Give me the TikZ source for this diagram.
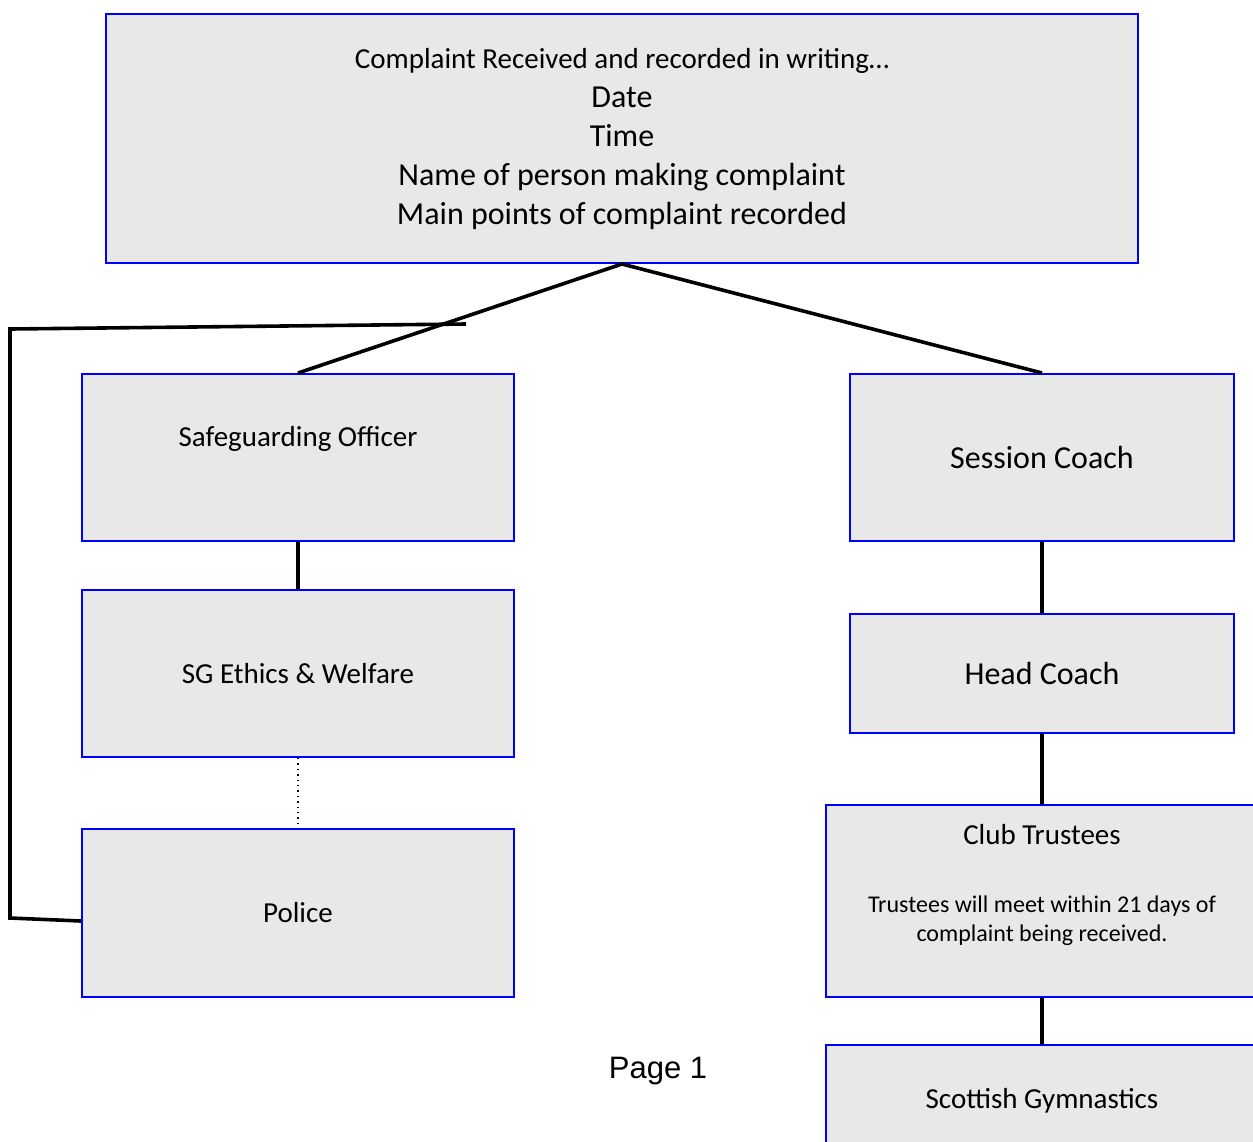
\documentclass[tikz,border=0pt]{standalone}
\usepackage{fontspec}
\setmainfont{Carlito}
\newfontfamily\pagefont{Liberation Sans}
\usepackage{tikz}
\definecolor{boxgrey}{RGB}{232,232,232}

\begin{document}
\begin{tikzpicture}[x=0.5pt, y=-0.5pt,
    stagebox/.style={draw=blue, fill=boxgrey, line width=1pt, inner sep=0pt, align=center,
        minimum width=216pt, font=\fontsize{14.5}{17.5}\selectfont},
    link/.style={line width=1.8pt}]
\useasboundingbox (0, 0) rectangle (1253, 1141);
% top box
\node[stagebox, minimum width=516pt, text height=105pt, text depth=19.5pt,
    font=\fontsize{16}{19.5}\selectfont] (recv) at (622, 138.5)
    {{\fontsize{14.5}{19.5}\selectfont Complaint Received and recorded in writing\dots}\\ Date\\ Time\\
     Name of person making complaint\\ Main points of complaint recorded};
% left column
\node[stagebox, text height=36pt, text depth=47.5pt] (safe) at (298, 457.5) {Safeguarding Officer};
\node[stagebox, minimum height=83.5pt] (ethics) at (298, 673.5) {SG Ethics \& Welfare};
\node[stagebox, minimum height=84pt] (police) at (298, 913) {Police};
% right column
\node[stagebox, minimum width=192pt, minimum height=83.5pt, font=\fontsize{16}{19.5}\selectfont] (sess) at (1042, 457.5) {Session Coach};
\node[stagebox, minimum width=192pt, minimum height=59.5pt, font=\fontsize{16}{19.5}\selectfont] (head) at (1042, 673.5) {Head Coach};
\node[stagebox, text height=68pt, text depth=28pt] (trust) at (1042, 901)
    {Club Trustees\\[16.5pt]{\fontsize{12}{14.5}\selectfont Trustees will meet within 21 days of}\\[-3pt]
     {\fontsize{12}{14.5}\selectfont complaint being received.}};
\node[stagebox, minimum height=56pt] (sg) at (1042, 1101) {Scottish Gymnastics};
\node[font=\pagefont\fontsize{15.5}{18}\selectfont] (page) at (658, 1071) {Page 1};

\draw[link] (safe.north) -- (recv.south) -- (sess.north);
\draw[link] (safe) -- (ethics);
\draw[dotted, line width=0.7pt] (ethics) -- (police);
\draw[link] (sess) -- (head);
\draw[link] (head) -- (trust);
\draw[link] (trust) -- (sg);
% bracket to police
\coordinate (brtip) at (466, 324);
\coordinate (brtop) at (10, 329);
\coordinate (brbot) at (10, 918);
\draw[link] (brtip) -- (brtop) -- (brbot) -- ([yshift=-4pt]police.west);
\end{tikzpicture}
\end{document}
